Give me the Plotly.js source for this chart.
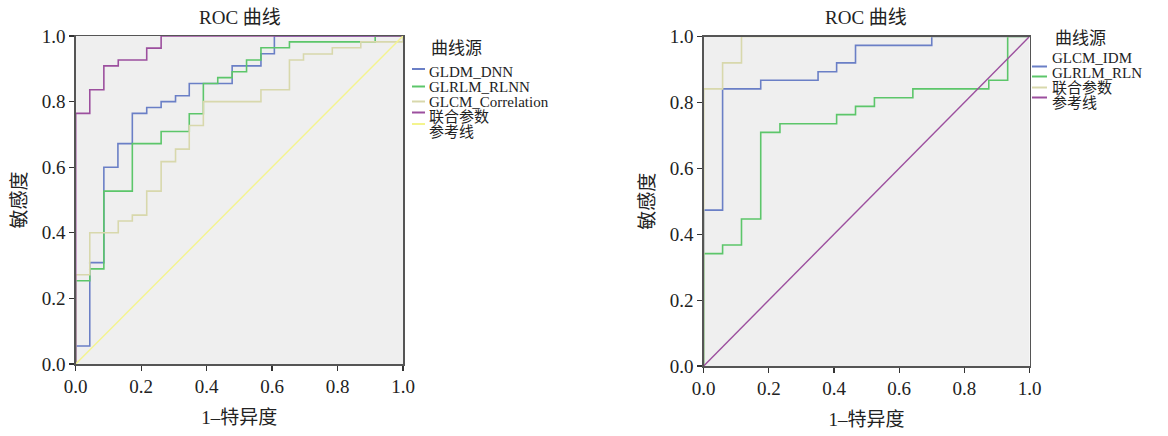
<!DOCTYPE html>
<html>
<head>
<meta charset="utf-8">
<script src="https://cdn.plot.ly/plotly-3.0.1.min.js"></script>
<style>html,body{margin:0;padding:0;background:#fff;}#chart{width:1168px;height:436px;}</style>
</head>
<body>
<div id="chart"></div>
<script>
// ---- Left chart data (FPR = 1-特异度, TPR = 敏感度), step points ----
const leftDnnX  = [0, 0, 0.043, 0.086, 0.129, 0.173, 0.217, 0.261, 0.305, 0.347, 0.478, 0.566, 0.607, 1];
const leftDnnY  = [0, 0.055, 0.309, 0.600, 0.672, 0.764, 0.782, 0.800, 0.818, 0.855, 0.909, 0.946, 1.0, 1.0];
const leftRlnnX = [0, 0, 0.043, 0.086, 0.173, 0.261, 0.347, 0.390, 0.434, 0.478, 0.522, 0.566, 0.653, 0.915, 1];
const leftRlnnY = [0, 0.254, 0.290, 0.527, 0.672, 0.709, 0.763, 0.855, 0.873, 0.891, 0.927, 0.964, 0.982, 1.0, 1.0];
const leftCorrX = [0, 0, 0.043, 0.130, 0.173, 0.217, 0.261, 0.305, 0.347, 0.390, 0.566, 0.653, 0.696, 0.784, 0.871, 1];
const leftCorrY = [0, 0.272, 0.400, 0.436, 0.454, 0.527, 0.617, 0.655, 0.727, 0.800, 0.836, 0.927, 0.945, 0.964, 0.982, 1.0];
const leftCombX = [0, 0, 0.043, 0.086, 0.130, 0.217, 0.261, 1];
const leftCombY = [0, 0.764, 0.836, 0.909, 0.927, 0.963, 1.0, 1.0];
const refX = [0, 1];
const refY = [0, 1];

// ---- Right chart data ----
const rightIdmX  = [0, 0, 0.058, 0.175, 0.351, 0.408, 0.466, 0.700, 1];
const rightIdmY  = [0, 0.473, 0.841, 0.867, 0.893, 0.920, 0.973, 1.0, 1.0];
const rightRlnX  = [0, 0, 0.058, 0.116, 0.175, 0.234, 0.408, 0.466, 0.524, 0.642, 0.875, 0.933, 1];
const rightRlnY  = [0, 0.341, 0.367, 0.446, 0.709, 0.735, 0.763, 0.788, 0.814, 0.841, 0.867, 1.0, 1.0];
const rightCombX = [0, 0, 0.058, 0.116, 1];
const rightCombY = [0, 0.841, 0.920, 1.0, 1.0];

// ---- Text ----
const chartTitle = 'ROC 曲线';
const xTitle = '1–特异度';
const yTitle = '敏感度';
const legendTitle = '曲线源';
const leftNames = ['GLDM_DNN', 'GLRLM_RLNN', 'GLCM_Correlation', '联合参数', '参考线'];
const rightNames = ['GLCM_IDM', 'GLRLM_RLN', '联合参数', '参考线'];
const tickVals = [0, 0.2, 0.4, 0.6, 0.8, 1.0];
const tickText = ['0.0', '0.2', '0.4', '0.6', '0.8', '1.0'];

const C = {blue:'#6a7fc6', green:'#5cc66a', tan:'#d8d8ac', purple:'#9c4f9e', yellow:'#f4f48e'};
const FONT = 'Liberation Serif, "Times New Roman", "Noto Sans CJK SC", serif';

function step(x, y, color, name, xa, ya) {
  return {x, y, name, type:'scatter', mode:'lines', line:{color, width:1.6, shape:'hv'},
          xaxis:xa, yaxis:ya, showlegend:false, hoverinfo:'skip'};
}
function ref(color, xa, ya) {
  return {x:refX, y:refY, type:'scatter', mode:'lines', line:{color, width:1.4},
          xaxis:xa, yaxis:ya, showlegend:false, hoverinfo:'skip'};
}

const data = [
  step(leftDnnX, leftDnnY, C.blue, leftNames[0], 'x', 'y'),
  step(leftRlnnX, leftRlnnY, C.green, leftNames[1], 'x', 'y'),
  step(leftCorrX, leftCorrY, C.tan, leftNames[2], 'x', 'y'),
  step(leftCombX, leftCombY, C.purple, leftNames[3], 'x', 'y'),
  ref(C.yellow, 'x', 'y'),
  step(rightIdmX, rightIdmY, C.blue, rightNames[0], 'x2', 'y2'),
  step(rightRlnX, rightRlnY, C.green, rightNames[1], 'x2', 'y2'),
  step(rightCombX, rightCombY, C.tan, rightNames[2], 'x2', 'y2'),
  ref(C.purple, 'x2', 'y2')
];

const W = 1168, H = 436;
const px = v => v / W, py = v => 1 - v / H;

function xAxis(domain, anchor) {
  return {domain, anchor, range:[0,1], showgrid:false, zeroline:false,
    showline:true, linecolor:'#555', linewidth:1.5, mirror:true,
    ticks:'outside', ticklen:5, tickcolor:'#333', tickwidth:1.2,
    tickvals:tickVals, ticktext:tickText, tickfont:{family:FONT, size:19, color:'#222'},
    title:{text:xTitle, font:{family:FONT, size:19, color:'#222'}, standoff:14}, automargin:false};
}
function yAxis(domain, anchor) {
  return {domain, anchor, range:[0,1], showgrid:false, zeroline:false,
    showline:true, linecolor:'#555', linewidth:1.5, mirror:true,
    ticks:'outside', ticklen:5, tickcolor:'#333', tickwidth:1.2,
    tickvals:tickVals, ticktext:tickText, tickfont:{family:FONT, size:19, color:'#222'},
    title:{text:yTitle, font:{family:FONT, size:19, color:'#222'}, standoff:10}, automargin:false};
}

const annotations = [];
const shapes = [];
function legendBlock(titleX, titleY, textX, rows, lineX0, lineX1, lines) {
  annotations.push({xref:'paper', yref:'paper', x:px(titleX), y:py(titleY), xanchor:'left', yanchor:'middle',
    text:legendTitle, showarrow:false, font:{family:FONT, size:17, color:'#222'}});
  rows.forEach(r => annotations.push({xref:'paper', yref:'paper', x:px(textX), y:py(r.y), xanchor:'left', yanchor:'middle',
    text:r.t, showarrow:false, borderpad:0, font:{family:FONT, size:15, color:'#222'}}));
  lines.forEach(l => shapes.push({type:'line', xref:'paper', yref:'paper', x0:px(lineX0), x1:px(lineX1),
    y0:py(l.y), y1:py(l.y), line:{color:l.c, width:2}}));
}
legendBlock(429, 48, 428, [
  {t:leftNames[0], y:72}, {t:leftNames[1], y:87}, {t:leftNames[2], y:102}, {t:leftNames[3], y:117}, {t:leftNames[4], y:132}
], 412, 425, [
  {c:C.blue, y:69}, {c:C.green, y:86.5}, {c:C.tan, y:101.5}, {c:C.purple, y:112.5}, {c:C.yellow, y:124}
]);
legendBlock(1053, 39, 1051, [
  {t:rightNames[0], y:58}, {t:rightNames[1], y:73}, {t:rightNames[2], y:88}, {t:rightNames[3], y:103}
], 1032, 1047, [
  {c:C.blue, y:66.5}, {c:C.green, y:76.5}, {c:C.tan, y:87.5}, {c:C.purple, y:97.5}
]);

// chart titles
annotations.push({xref:'paper', yref:'paper', x:px(240), y:py(18), xanchor:'center', yanchor:'middle',
  text:chartTitle, showarrow:false, font:{family:FONT, size:19, color:'#222'}});
annotations.push({xref:'paper', yref:'paper', x:px(866), y:py(18), xanchor:'center', yanchor:'middle',
  text:chartTitle, showarrow:false, font:{family:FONT, size:19, color:'#222'}});

const layout = {
  width:W, height:H, margin:{l:0, r:0, t:0, b:0},
  paper_bgcolor:'#ffffff', plot_bgcolor:'#efefef',
  showlegend:false,
  xaxis: xAxis([px(75.7), px(403)], 'y'),
  yaxis: yAxis([1 - 364/H, 1 - 36/H], 'x'),
  xaxis2: xAxis([px(703.7), px(1029.5)], 'y2'),
  yaxis2: yAxis([1 - 366/H, 1 - 36.5/H], 'x2'),
  annotations, shapes
};

Plotly.newPlot('chart', data, layout, {displayModeBar:false, staticPlot:true});
</script>
</body>
</html>
